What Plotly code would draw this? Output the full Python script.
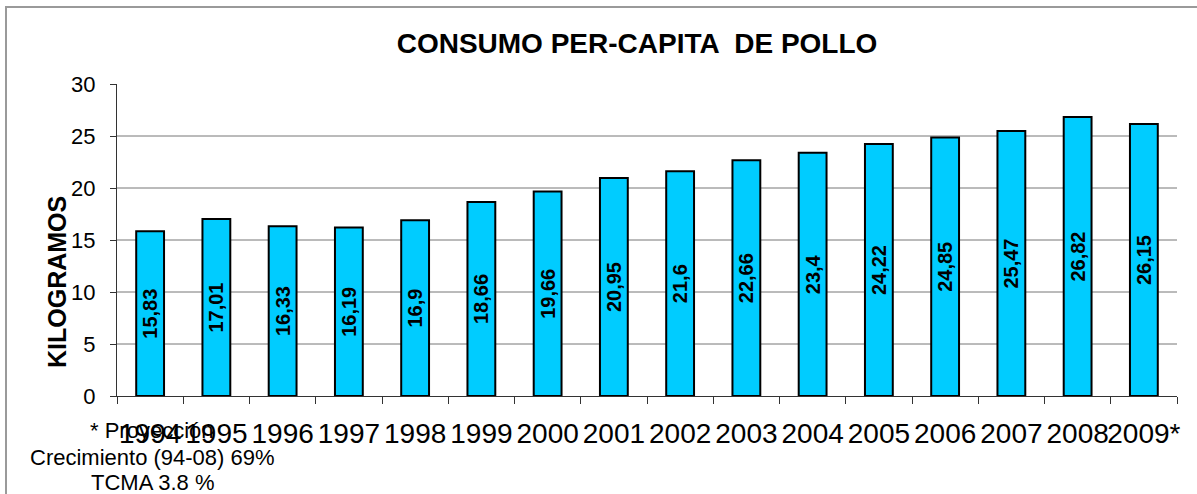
import plotly.graph_objects as go

# ── Data ──────────────────────────────────────────────────────────────────
years = ["1994", "1995", "1996", "1997", "1998", "1999", "2000", "2001",
         "2002", "2003", "2004", "2005", "2006", "2007", "2008", "2009*"]
consumo_kg = [15.83, 17.01, 16.33, 16.19, 16.9, 18.66, 19.66, 20.95,
              21.6, 22.66, 23.4, 24.22, 24.85, 25.47, 26.82, 26.15]
y_ticks = [0, 5, 10, 15, 20, 25, 30]
notes = ["* Proyección", "Crecimiento (94-08) 69%", "TCMA 3.8 %"]

FONT = "Arial, Liberation Sans, sans-serif"
BAR_COLOR = "#00CCFF"

W, H = 1197, 494
L, R, T, B = 117, 20, 84, 98
PW, PH = W - L - R, H - T - B


def px_x(x):
    return (x - L) / PW


def px_y(y):
    return (H - B - y) / PH


labels = [f"{v:g}".replace(".", ",") for v in consumo_kg]

fig = go.Figure(go.Bar(
    x=years,
    y=consumo_kg,
    text=labels,
    textposition="inside",
    insidetextanchor="middle",
    textangle=-90,
    constraintext="none",
    textfont=dict(family=FONT, size=20, color="black", weight="bold"),
    marker=dict(color=BAR_COLOR, line=dict(color="black", width=2)),
    hovertemplate="%{x}: %{y}<extra></extra>",
))

fig.update_layout(
    width=W, height=H,
    margin=dict(l=L, r=R, t=T, b=B, autoexpand=False),
    paper_bgcolor="white",
    plot_bgcolor="white",
    bargap=0.58,
    showlegend=False,
    font=dict(family=FONT, color="black"),
    title=dict(
        text="<b>CONSUMO PER-CAPITA  DE POLLO</b>",
        font=dict(size=28, family=FONT, color="black"),
        x=637 / W, xanchor="center", xref="container",
        y=1 - 43 / H, yanchor="middle", yref="container",
    ),
    xaxis=dict(
        type="category",
        tickangle=0,
        tickson="boundaries",
        ticks="outside", ticklen=7, tickcolor="#333",
        showline=True, linecolor="#333", linewidth=1,
        showgrid=False,
        tickfont=dict(size=28, family=FONT, color="black"),
        ticklabelstandoff=12,
    ),
    yaxis=dict(
        range=[0, 30],
        tickvals=y_ticks,
        ticks="outside", ticklen=6, tickcolor="#333",
        showline=True, linecolor="#333", linewidth=1,
        showgrid=False,
        zeroline=False,
        tickfont=dict(size=22, family=FONT, color="black"),
        ticklabelstandoff=10,
    ),
)

# horizontal gridlines (the top one is not drawn in the original)
for v in y_ticks[1:-1]:
    fig.add_hline(y=v, line=dict(color="#777", width=1), layer="below")

# y-axis title
fig.add_annotation(
    text="<b>KILOGRAMOS</b>", textangle=-90,
    xref="paper", yref="paper", x=px_x(57), y=px_y(282),
    xanchor="center", yanchor="middle",
    showarrow=False, font=dict(size=25, family=FONT, color="black"),
)

# footnotes under the axis
for note, yc in zip(notes, [430, 457, 483]):
    fig.add_annotation(
        text=note, xref="paper", yref="paper",
        x=px_x(152), y=px_y(yc), xanchor="center", yanchor="middle",
        showarrow=False, font=dict(size=22, family=FONT, color="black"),
    )

# chart frame
fig.add_shape(
    type="rect", xref="paper", yref="paper",
    x0=px_x(6), x1=px_x(W + 10), y0=px_y(H + 10), y1=px_y(7),
    line=dict(color="#9a9a9a", width=2), layer="below",
)

fig.write_html(
    "out.html",
    config={"displayModeBar": False},
    post_script="document.body.style.margin='0';",
)
